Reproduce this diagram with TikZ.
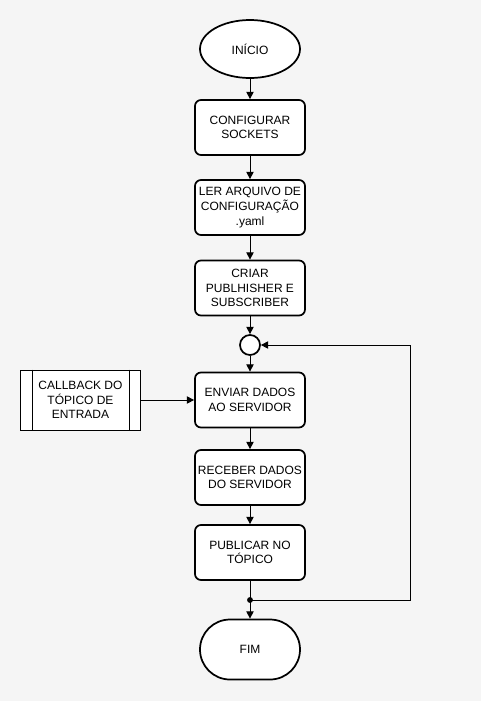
\documentclass[tikz,border=0pt]{standalone}
\usepackage{fontspec}
\setmainfont{Liberation Sans}
\usetikzlibrary{arrows.meta,shapes.geometric}

\begin{document}
\begin{tikzpicture}[x=0.75pt, y=-0.75pt,
    font=\fontsize{9}{11}\selectfont,
    box/.style={draw, fill=white, line width=1.3pt, rounded corners=4.5pt,
        minimum width=82.5pt, minimum height=41.25pt, inner sep=1pt, align=center},
    arrow/.style={-{Triangle[length=5.5pt, width=5.5pt]}, line width=0.75pt}]

        % fundo
        \fill[gray!8] (0,0) rectangle (481,701);
        \useasboundingbox (0,0) rectangle (481,701);

        % blocos do fluxo
        \node[ellipse, draw, fill=white, line width=1.3pt, minimum width=75pt, minimum height=43.5pt, inner sep=0pt] (start) at (250,49) {INÍCIO};
        \node[box] (sockets) at (250,127.5) {CONFIGURAR\\SOCKETS};
        \node[box] (config) at (250,207.5) {LER ARQUIVO DE\\CONFIGURAÇÃO\\.yaml};
        \node[box] (pubsub) at (250,288) {CRIAR\\PUBLHISHER E\\SUBSCRIBER};
        \node[circle, draw, fill=white, line width=1.3pt, minimum size=15pt, inner sep=0pt] (merge) at (250,345) {};
        \node[box] (send) at (250,400) {ENVIAR DADOS\\AO SERVIDOR};
        \node[box] (receive) at (250,477.5) {RECEBER DADOS\\DO SERVIDOR};
        \node[box] (publish) at (250,552.5) {PUBLICAR NO\\TÓPICO};
        \node[box, rounded corners=22.5pt, minimum width=75pt, minimum height=45pt] (stop) at (250,649.5) {FIM};

        % callback de entrada
        \node[draw, fill=white, line width=0.75pt, minimum width=90pt, minimum height=45pt, inner sep=1pt, align=center] (callback) at (80.5,400) {CALLBACK DO\\TÓPICO DE\\ENTRADA};
        \draw[line width=0.75pt] ([xshift=9pt]callback.north west) -- ([xshift=9pt]callback.south west);
        \draw[line width=0.75pt] ([xshift=-9pt]callback.north east) -- ([xshift=-9pt]callback.south east);

        % ligacoes
        \draw[arrow] (start) -- (sockets);
        \draw[arrow] (sockets) -- (config);
        \draw[arrow] (config) -- (pubsub);
        \draw[arrow] (pubsub) -- (merge);
        \draw[arrow] (merge) -- (send);
        \draw[arrow] (callback) -- (send);
        \draw[arrow] (send) -- (receive);
        \draw[arrow] (receive) -- (publish);
        \draw[arrow] (publish) -- (stop);

        % laco de volta
        \coordinate (loop) at (250,600);
        \coordinate (back) at (410,600);
        \fill (loop) circle (2.2pt);
        \draw[arrow] (loop) -- (back) |- (merge.east);
    \end{tikzpicture}
\end{document}
